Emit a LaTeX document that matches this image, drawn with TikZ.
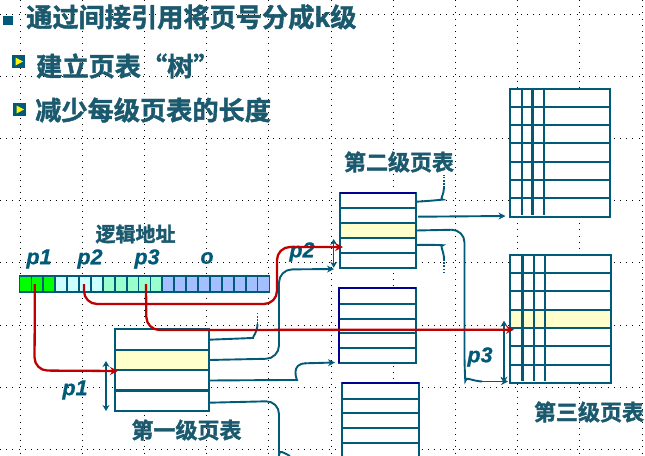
\documentclass[tikz,border=0pt]{standalone}
\usepackage{fontspec}
\setmainfont{Liberation Sans}
\newfontfamily\cjkbold[FakeBold=1.6]{Noto Sans CJK SC Bold}
\newfontfamily\fieldfont[FakeBold=0.8]{Liberation Sans Bold Italic}
\usetikzlibrary{arrows.meta}
\definecolor{tealline}{HTML}{005A78}
\definecolor{tealtext}{HTML}{1B5A6E}
\definecolor{redline}{HTML}{C00000}
\definecolor{navyedge}{HTML}{000090}
\definecolor{rowyellow}{HTML}{FFFFCC}
\definecolor{cellgreen}{HTML}{00FF00}
\definecolor{cellcyan}{HTML}{CCFFFF}
\definecolor{cellmint}{HTML}{99FFCC}
\definecolor{cellblue}{HTML}{A3BFFF}
\tikzset{
  griddots/.style={black,line width=1pt,dash pattern=on 1pt off 5.2pt},
  tablebox/.style={draw=tealline,fill=white,line width=2.3pt,inner sep=0,outer sep=0,anchor=north west},
  rowline/.style={draw=tealline,line width=2.3pt},
  navyline/.style={draw=navyedge,line width=2.3pt},
  cellbox/.style={draw=tealline,line width=1.8pt,inner sep=0,outer sep=0,minimum width=11.9pt,minimum height=16pt},
  tealconn/.style={draw=tealline,line width=1.9pt,rounded corners=13pt},
  tealarrow/.style={tealconn,-{Stealth[length=7pt,width=7pt]}},
  tealdots/.style={draw=tealline,line width=1.9pt,dash pattern=on 1.6pt off 1.6pt},
  redconn/.style={draw=redline,line width=2.3pt,rounded corners=13pt,-{Stealth[length=8pt,width=8pt]}},
  spanarrow/.style={draw=tealline,line width=1.4pt,{Stealth[length=6pt,width=7pt]}-{Stealth[length=6pt,width=7pt]}},
  headline/.style={text=tealtext,font=\cjkbold\fontsize{26.2}{26}\selectfont,anchor=west,inner sep=0},
  tabletitle/.style={text=tealtext,font=\cjkbold\fontsize{22}{22}\selectfont,inner sep=0},
  addrtitle/.style={text=tealtext,font=\cjkbold\fontsize{20}{20}\selectfont,inner sep=0},
  fieldname/.style={text=tealline,font=\fieldfont\fontsize{21.5}{21}\selectfont,inner sep=0},
  bulletbox/.style={fill=tealline,draw=none,inner sep=0,minimum size=13pt},
}
\begin{document}
\begin{tikzpicture}[x=1pt,y=-1pt]
\clip (0,0) rectangle (645,455);
\fill[white] (0,0) rectangle (645,455);

% Slide guide dots
\foreach \gx in {20,82.2,144.4,206.6,268.8,331,393.2,455.4,517.6,579.8,642}
  \draw[griddots] (\gx,0) -- (\gx,455);
\foreach \gy in {14,76,138,200.5,262.5,325,387,449}
  \draw[griddots] (0,\gy) -- (645,\gy);

% Headline and bullets
\node[fill=tealline,inner sep=0,minimum size=9.5pt] (bulletmain) at (8,20.5) {};
\node[headline] (headmain) at (26,17) {通过间接引用将页号分成k级};
\node[bulletbox] (bulleta) at (18.5,61.5) {};
\fill[yellow] (bulleta.center) ++(-3,-4) -- ++(7.5,4) -- ++(-7.5,4) -- cycle;
\node[headline] (heada) at (36,66) {建立页表“树”};
\node[bulletbox] (bulletb) at (19.5,109.5) {};
\fill[yellow] (bulletb.center) ++(-3,-4) -- ++(7.5,4) -- ++(-7.5,4) -- cycle;
\node[headline] (headb) at (35,110) {减少每级页表的长度};

% Logical address register
\foreach \i [evaluate=\i as \cx using {19.5+11.9*(\i-0.5)}] in {1,...,21}{
  \ifnum\i<4 \def\cc{cellgreen}\else
  \ifnum\i<8 \def\cc{cellcyan}\else
  \ifnum\i<13 \def\cc{cellmint}\else \def\cc{cellblue}\fi\fi\fi
  \node[cellbox,fill=\cc] (cell\i) at (\cx,284) {};
}
\node[addrtitle] (addrname) at (135.5,234) {逻辑地址};
\node[fieldname] (fa) at (39,259) {p1};
\node[fieldname] (fb) at (90,259) {p2};
\node[fieldname] (fc) at (147,259) {p3};
\node[fieldname] (fd) at (207,258) {o};

% First level table
\node[tablebox,minimum width=94pt,minimum height=82pt] (one) at (115,329) {};
\fill[rowyellow] (115,350) rectangle (209,370);
\draw[tealline,line width=2.3pt] (one.north west) rectangle (one.south east);
\foreach \ry in {350,370,390.5} \draw[rowline] (one.west |- 0,\ry) -- (one.east |- 0,\ry);
\node[tabletitle] (onename) at (186.5,430) {第一级页表};

% Second level tables
\node[tablebox,minimum width=76pt,minimum height=75pt] (twoa) at (340,193) {};
\fill[rowyellow] (340,222.7) rectangle (416,237.7);
\draw[tealline,line width=2.3pt] (twoa.north west) rectangle (twoa.south east);
\foreach \ry in {208,222.7,237.7,253} \draw[rowline] (twoa.west |- 0,\ry) -- (twoa.east |- 0,\ry);
\draw[navyline] (twoa.north west) -- (twoa.north east);
\node[tabletitle] (twoname) at (399,162) {第二级页表};

\node[tablebox,minimum width=77pt,minimum height=75pt] (twob) at (339,288) {};
\foreach \ry in {303.7,319,333,348} \draw[rowline] (twob.west |- 0,\ry) -- (twob.east |- 0,\ry);
\draw[navyline] (twob.south west) -- (twob.north west) -- (twob.north east);

\node[tablebox,minimum width=77pt,minimum height=90pt] (twoc) at (342,383) {};
\foreach \ry in {399,413,428,443} \draw[rowline] (twoc.west |- 0,\ry) -- (twoc.east |- 0,\ry);
\draw[navyline] (twoc.north west) -- (twoc.north east);

% Third level tables
\node[tablebox,minimum width=100pt,minimum height=128pt] (threea) at (510,89) {};
\foreach \ry in {107,125,143,161.7,180,198} \draw[rowline] (threea.west |- 0,\ry) -- (threea.east |- 0,\ry);
\foreach \vx in {521.7,532.5,543.7} \draw[rowline] (\vx,89) -- (\vx,214.7);

\node[tablebox,minimum width=101pt,minimum height=128pt] (threeb) at (510,254.7) {};
\fill[rowyellow] (510,310) rectangle (611,327.7);
\draw[tealline,line width=2.3pt] (threeb.north west) rectangle (threeb.south east);
\foreach \ry in {272.7,290.7,310,327.7,346,365} \draw[rowline] (threeb.west |- 0,\ry) -- (threeb.east |- 0,\ry);
\foreach \vx in {522.5,533.7,544.7} \draw[rowline] (\vx,254.7) -- (\vx,381);
\node[tabletitle] (threename) at (589,412) {第三级页表};

% Free ends of the table links
\coordinate (dotsa) at (257.5,312);
\coordinate (toa) at (334,269);
\coordinate (tob) at (335,362.5);
\coordinate (dotsb) at (444,175);
\coordinate (tothreea) at (505.5,216);
\coordinate (tothreeb) at (508,381.5);
\coordinate (dotsc) at (444,273);
\coordinate (redtwo) at (343,247);
\coordinate (redthree) at (514,329.7);
\coordinate (redone) at (118,371);

% Links from the first level table
\draw[tealconn] (one.east |- 0,339.7) -- (240,338.5) .. controls (252,338) and (257.5,332) .. (257.5,324);
\draw[tealdots] (257.5,324) -- (dotsa);
\draw[tealarrow] (one.east |- 0,360) -- (279,358.5) -- (279,269.5) -- (toa);
\draw[tealconn] (one.east |- 0,380.5) -- (284,380) .. controls (297,380) and (290,363.5) .. (306,363.3);
\draw[tealarrow] (305,363.3) -- (tob);
\draw[tealconn] (one.east |- 0,402.7) -- (279,401) -- (279,442) .. controls (279,449) and (284,453) .. (290,456);

% Links from the second level table
\draw[tealconn] (twoa.east |- 0,201.7) -- (430,201) .. controls (439,200) and (444,195) .. (444,188);
\draw[tealdots] (444,188) -- (dotsb);
\draw[tealarrow] (418,216.7) -- (tothreea);
\draw[tealconn] (twoa.east |- 0,230.5) -- (464.5,229.5) -- (464.5,368) .. controls (465,376) and (472,381) .. (482,381.5);
\draw[tealarrow] (480,381.5) -- (tothreeb);
\draw[tealconn] (twoa.east |- 0,245) -- (430,244.5) .. controls (439,245) and (444,251) .. (444,259);
\draw[tealdots] (444,259) -- (dotsc);

% Index spans beside the tables
\draw[spanarrow] (106,361) -- (106,411);
\draw[spanarrow] (333.7,239) -- (333.7,267.7);
\draw[spanarrow] (504,320.7) -- (504,382.7);
\node[fieldname] (spanone) at (75,390) {p1};
\node[fieldname] (spantwo) at (302,252) {p2};
\node[fieldname] (spanthree) at (480,357) {p3};

% Field lookups from the logical address
\draw[redconn] ([xshift=-2.5pt]cell2.center) -- (34.5,370.5) -- (redone);
\draw[redconn] ([xshift=-1pt]cell6.center) -- (84,304) -- (277,304) -- (277,247) -- (redtwo);
\draw[redconn] ([xshift=1.5pt]cell11.center) -- (146.5,330) -- (redthree);
\end{tikzpicture}
\end{document}
